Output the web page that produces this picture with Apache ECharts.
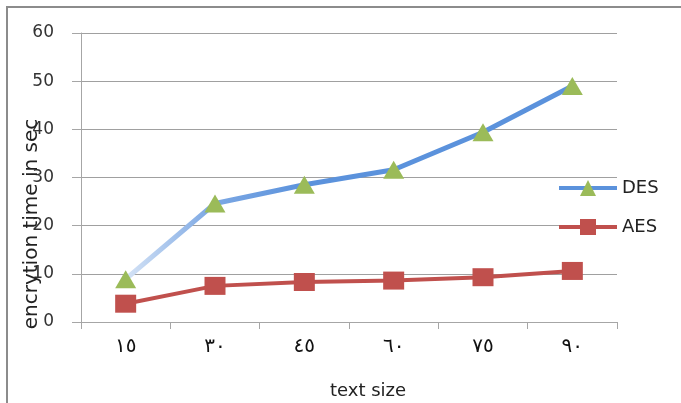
<!DOCTYPE html>
<html>
<head>
<meta charset="utf-8">
<script src="https://cdn.jsdelivr.net/npm/echarts@6/dist/echarts.min.js"></script>
<style>
html,body{margin:0;padding:0;background:#fff;}
#chart{width:681px;height:403px;}
</style>
</head>
<body>
<div id="chart"></div>
<script>
const categories = ['١٥', '٣٠', '٤٥', '٦٠', '٧٥', '٩٠'];
const desValues = [8.9, 24.6, 28.5, 31.6, 39.4, 49.0];
const aesValues = [3.8, 7.5, 8.3, 8.6, 9.3, 10.6];
const yTicks = { min: 0, max: 60, interval: 10 };
const yTitle = 'encrytion time in sec';
const xTitle = 'text size';

const chart = echarts.init(document.getElementById('chart'), null, { renderer: 'canvas' });
const font = 'DejaVu Sans';
const blue = '#5b92dc';
chart.setOption({
  backgroundColor: '#ffffff',
  animation: false,
  grid: { left: 81, right: 64, top: 33, bottom: 81, containLabel: false },
  xAxis: {
    type: 'category',
    data: categories,
    boundaryGap: true,
    axisLine: { show: true, lineStyle: { color: '#a6a6a6', width: 1 } },
    axisTick: { show: true, length: 7, lineStyle: { color: '#a6a6a6' } },
    axisLabel: { margin: 15, fontFamily: font, fontSize: 20, color: '#111' },
    splitLine: { show: false }
  },
  yAxis: {
    type: 'value',
    min: yTicks.min, max: yTicks.max, interval: yTicks.interval,
    axisLine: { show: true, lineStyle: { color: '#a6a6a6', width: 1 } },
    axisTick: { show: true, length: 9, lineStyle: { color: '#a6a6a6' } },
    axisLabel: { margin: 27, fontFamily: font, fontSize: 17, color: '#333' },
    splitLine: { show: true, lineStyle: { color: '#a0a0a0', width: 1 } }
  },
  legend: {
    orient: 'vertical',
    left: 557, top: 178, padding: 0,
    itemWidth: 58, itemHeight: 20, itemGap: 19,
    textStyle: { fontFamily: font, fontSize: 18, color: '#222', lineHeight: 20 },
    data: [
      { name: 'DES', lineStyle: { color: blue, width: 4 }, itemStyle: { color: '#9bbb59' } },
      { name: 'AES', lineStyle: { color: '#c0504d', width: 4 }, itemStyle: { color: '#c0504d' } }
    ]
  },
  series: [
    {
      name: 'AES', type: 'line', data: aesValues,
      symbol: 'rect', symbolSize: [21, 18],
      itemStyle: { color: '#c0504d' },
      lineStyle: { color: '#c0504d', width: 4 },
      z: 2
    },
    {
      name: 'DES', type: 'line', data: desValues,
      symbol: 'triangle', symbolSize: [21, 18],
      itemStyle: { color: '#9bbb59' },
      lineStyle: {
        width: 5,
        color: {
          type: 'linear', x: 0, y: 0, x2: 1, y2: 0,
          colorStops: [
            { offset: 0, color: '#d8e5f6' },
            { offset: 0.19, color: '#7ea9e4' },
            { offset: 0.4, color: blue },
            { offset: 1, color: blue }
          ]
        }
      },
      z: 3
    }
  ],
  graphic: [
    {
      type: 'polyline',
      shape: { points: [[7, 403], [7, 7], [681, 7]] },
      style: { stroke: '#8c8c8c', lineWidth: 2, fill: null },
      silent: true
    },
    {
      type: 'text',
      x: 32, y: 224,
      rotation: Math.PI / 2,
      style: { text: yTitle, fontFamily: font, fontSize: 20, fill: '#222', align: 'center', verticalAlign: 'middle' },
      z: 10
    },
    {
      type: 'text',
      x: 368, y: 391,
      style: { text: xTitle, fontFamily: font, fontSize: 18, fill: '#222', align: 'center', verticalAlign: 'middle' }
    }
  ]
});
</script>
</body>
</html>
